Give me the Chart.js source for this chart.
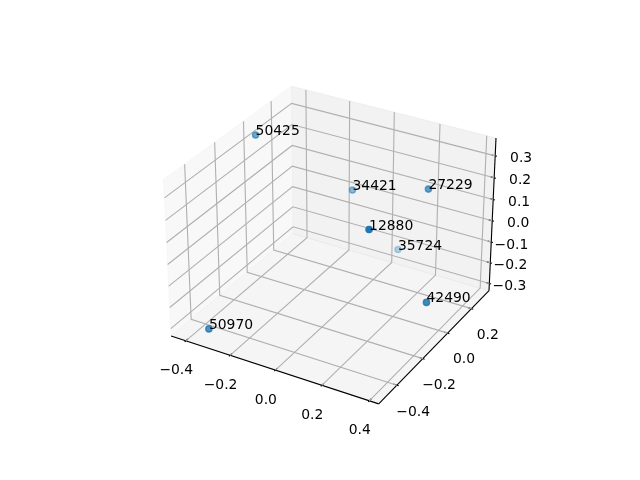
<!DOCTYPE html>
<html>
<head>
<meta charset="utf-8">
<title>3D scatter</title>
<script src="https://cdn.jsdelivr.net/npm/chart.js@4"></script>
<style>
html, body { margin: 0; background: #fff; }
canvas { display: block; }
</style>
</head>
<body>
<canvas id="chart" width="640" height="480"></canvas>
<script>
const pointLabels = ['50425', '34421', '27229', '12880', '35724', '42490', '50970']
const xValues = [-0.378, -0.034, 0.257, 0.161, 0.141, 0.387, -0.311]
const yValues = [-0.054, 0.089, 0.160, -0.125, 0.141, -0.082, -0.508]
const zValues = [0.367, 0.141, 0.193, 0.129, -0.113, -0.159, -0.265]

const xTicks = [-0.4, -0.2, 0.0, 0.2, 0.4]
const yTicks = [-0.4, -0.2, 0.0, 0.2]
const zTicks = [-0.3, -0.2, -0.1, 0.0, 0.1, 0.2, 0.3]

const xLim = [-0.449, 0.421]
const yLim = [-0.518, 0.334]
const zLim = [-0.321, 0.366]

// same camera as a default mplot3d axes
const boxScale = 1.8294640721620434 / Math.hypot(4, 4, 3)
const box = [4 * boxScale, 4 * boxScale, 3 * boxScale]
const dist = 10
const elev = 30 * Math.PI / 180
const azim = -60 * Math.PI / 180
const n = [Math.cos(elev) * Math.cos(azim), Math.cos(elev) * Math.sin(azim), Math.sin(elev)]
const u = [Math.sin(-azim), Math.cos(azim), 0]
const v = [n[1] * u[2] - n[2] * u[1], n[2] * u[0] - n[0] * u[2], n[0] * u[1] - n[1] * u[0]]
const dot = (p, q) => p[0] * q[0] + p[1] * q[1] + p[2] * q[2]

const toBox = (p) => [
  ((p[0] - xLim[0]) / (xLim[1] - xLim[0]) - 0.5) * box[0],
  ((p[1] - yLim[0]) / (yLim[1] - yLim[0]) - 0.5) * box[1],
  ((p[2] - zLim[0]) / (zLim[1] - zLim[0]) - 0.5) * box[2]
]
const depth = (p) => dot(toBox(p), n)
const project = (p) => {
  const d = toBox(p)
  const w = dist - dot(d, n)
  return { x: dot(d, u) / w, y: dot(d, v) / w }
}

// panes stick out of the limits by 1/48 of the range
const pad = (lim) => [lim[0] - (lim[1] - lim[0]) / 48, lim[1] + (lim[1] - lim[0]) / 48]
const [x0, x1] = pad(xLim)
const [y0, y1] = pad(yLim)
const [z0, z1] = pad(zLim)

const lineSet = (pts, color, width) => ({
  type: 'scatter',
  data: pts.map(project),
  showLine: true,
  borderColor: color,
  borderWidth: width,
  pointRadius: 0,
  fill: false,
  tension: 0,
  order: 5
})
const paneSet = (pts, fillColor) => ({
  ...lineSet([...pts, pts[0]], fillColor, 1),
  fill: 'shape',
  backgroundColor: fillColor,
  order: 6
})

const datasets = [
  paneSet([[x0, y0, z0], [x0, y1, z0], [x0, y1, z1], [x0, y0, z1]], 'rgba(242,242,242,0.5)'),
  paneSet([[x0, y1, z0], [x1, y1, z0], [x1, y1, z1], [x0, y1, z1]], 'rgba(230,230,230,0.5)'),
  paneSet([[x0, y0, z0], [x1, y0, z0], [x1, y1, z0], [x0, y1, z0]], 'rgba(236,236,236,0.5)')
]

const gridColor = '#b0b0b0'
const gridWidth = 1.11
xTicks.forEach(t => datasets.push(lineSet([[t, y0, z0], [t, y1, z0], [t, y1, z1]], gridColor, gridWidth)))
yTicks.forEach(t => datasets.push(lineSet([[x1, t, z0], [x0, t, z0], [x0, t, z1]], gridColor, gridWidth)))
zTicks.forEach(t => datasets.push(lineSet([[x0, y0, t], [x0, y1, t], [x1, y1, t]], gridColor, gridWidth)))

datasets.push(lineSet([[x0, y0, z0], [x1, y0, z0]], '#000', gridWidth))
datasets.push(lineSet([[x1, y0, z0], [x1, y1, z0]], '#000', gridWidth))
datasets.push(lineSet([[x1, y1, z0], [x1, y1, z1]], '#000', gridWidth))

// tick marks, a bit inside and a bit outside of the edge
const dy = (y1 - y0) / 12
const dx = (x1 - x0) / 12
xTicks.forEach(t => datasets.push(lineSet([[t, y0 + 0.2 * dy, z0], [t, y0 - 0.1 * dy, z0]], '#000', gridWidth)))
yTicks.forEach(t => datasets.push(lineSet([[x1 - 0.2 * dx, t, z0], [x1 + 0.1 * dx, t, z0]], '#000', gridWidth)))
zTicks.forEach(t => datasets.push(lineSet([[x1 - 0.2 * dx, y1, t], [x1 + 0.1 * dx, y1, t]], '#000', gridWidth)))

// depth shading: nearest point solid, farthest 0.3
const points = pointLabels.map((_, i) => [xValues[i], yValues[i], zValues[i]])
const depths = points.map(depth)
const dMin = Math.min(...depths)
const dMax = Math.max(...depths)
const alphas = depths.map(d => 1 - 0.7 * (dMax - d) / (dMax - dMin))
datasets.push({
  type: 'scatter',
  data: points.map(project),
  pointRadius: 3.1,
  pointBorderWidth: 1.39,
  pointBackgroundColor: alphas.map(al => `rgba(31,119,180,${al})`),
  pointBorderColor: alphas.map(al => `rgba(31,119,180,${al})`),
  order: 1
})

const fmt = (t) => t.toFixed(1).replace('-', '\u2212')

const textPlugin = {
  id: 'axisText',
  afterDraw(chart) {
    const { ctx, scales } = chart
    const sx = (p) => scales.x.getPixelForValue(project(p).x)
    const sy = (p) => scales.y.getPixelForValue(project(p).y)
    ctx.save()
    ctx.fillStyle = '#000'
    ctx.font = '13.9px "DejaVu Sans"'
    ctx.textBaseline = 'middle'
    ctx.textAlign = 'center'
    xTicks.forEach(t => ctx.fillText(fmt(t), sx([t, y0, z0]) - 9.5, sy([t, y0, z0]) + 30))
    yTicks.forEach(t => ctx.fillText(fmt(t), sx([x1, t, z0]) + 16.3, sy([x1, t, z0]) + 26.7))
    ctx.textAlign = 'right'
    zTicks.forEach(t => ctx.fillText(fmt(t), sx([x1, y1, t]) + 37, sy([x1, y1, t]) + 3))
    ctx.textAlign = 'left'
    ctx.textBaseline = 'alphabetic'
    points.forEach((p, i) => ctx.fillText(pointLabels[i], sx(p), sy(p)))
    ctx.restore()
  }
}

// 2D view window of mplot3d, fitted as a 369.6px square in the default subplot
const unit = 369.6 / 0.185
const xMin = -0.095 - 143.2 / unit
const yMin = -0.095 - 52.8 / unit

new Chart(document.getElementById('chart'), {
  type: 'scatter',
  data: { datasets },
  options: {
    responsive: false,
    animation: false,
    layout: { padding: 0, autoPadding: false },
    scales: {
      x: { type: 'linear', display: false, min: xMin, max: xMin + 640 / unit },
      y: { type: 'linear', display: false, min: yMin, max: yMin + 480 / unit }
    },
    plugins: { legend: { display: false }, tooltip: { enabled: false } }
  },
  plugins: [textPlugin]
})
</script>
</body>
</html>
